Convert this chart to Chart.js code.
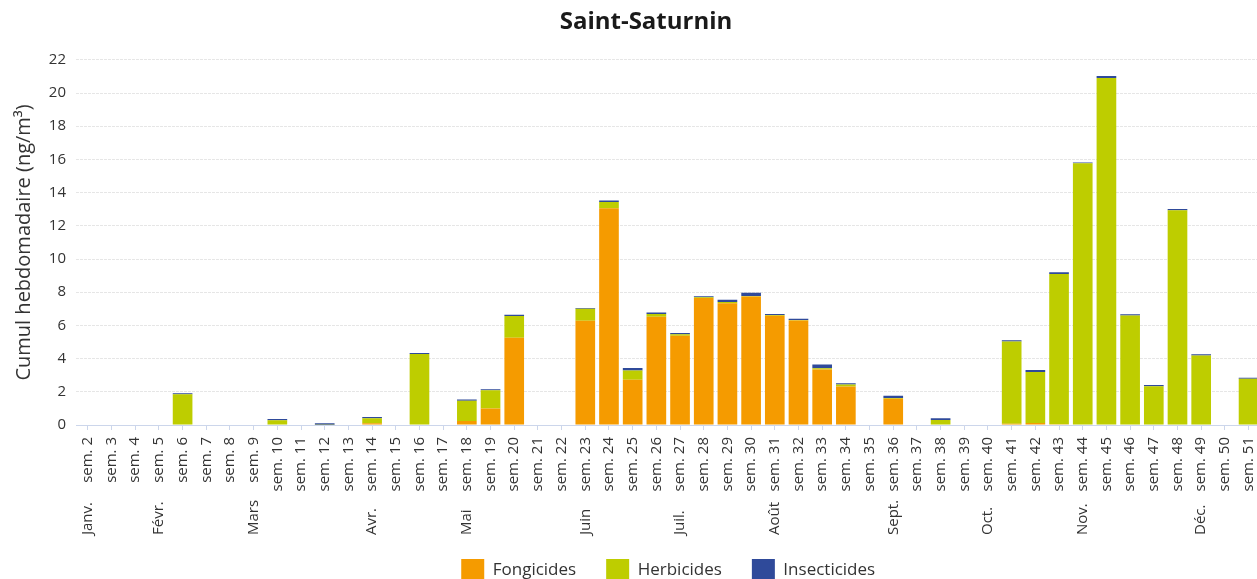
<!DOCTYPE html>
<html>
<head>
<meta charset="utf-8">
<script src="https://cdn.jsdelivr.net/npm/chart.js@4/dist/chart.umd.min.js"></script>
<style>
  html, body { margin: 0; padding: 0; overflow: hidden; background: #fff; }
</style>
</head>
<body>
<canvas id="myChart" width="1292" height="592"></canvas>
<script>
var weeks = ["sem. 2", "sem. 3", "sem. 4", "sem. 5", "sem. 6", "sem. 7", "sem. 8", "sem. 9", "sem. 10", "sem. 11",
    "sem. 12", "sem. 13", "sem. 14", "sem. 15", "sem. 16", "sem. 17", "sem. 18", "sem. 19", "sem. 20", "sem. 21",
    "sem. 22", "sem. 23", "sem. 24", "sem. 25", "sem. 26", "sem. 27", "sem. 28", "sem. 29", "sem. 30", "sem. 31",
    "sem. 32", "sem. 33", "sem. 34", "sem. 35", "sem. 36", "sem. 37", "sem. 38", "sem. 39", "sem. 40", "sem. 41",
    "sem. 42", "sem. 43", "sem. 44", "sem. 45", "sem. 46", "sem. 47", "sem. 48", "sem. 49", "sem. 50", "sem. 51"];

// month names and the week under which each one is written
var monthNames = ["Janv.", "Févr.", "Mars", "Avr.", "Mai", "Juin", "Juil.", "Août", "Sept.", "Oct.", "Nov.", "Déc."];
var monthWeeks = ["sem. 2", "sem. 5", "sem. 9", "sem. 14", "sem. 18", "sem. 23", "sem. 27", "sem. 31", "sem. 36", "sem. 40", "sem. 44", "sem. 49"];

var fongicides = [0, 0, 0, 0, 0, 0, 0, 0, 0, 0,
    0, 0, 0.1, 0, 0, 0, 0.24, 1.0, 5.26, 0,
    0, 6.28, 13.06, 2.72, 6.52, 5.38, 7.65, 7.33, 7.74, 6.58,
    6.3, 3.34, 2.32, 0, 1.58, 0, 0, 0, 0, 0.08,
    0.12, 0.05, 0, 0, 0, 0, 0, 0, 0, 0];
var herbicides = [0, 0, 0, 0, 1.85, 0, 0, 0, 0.29, 0,
    0.02, 0, 0.3, 0, 4.27, 0, 1.22, 1.09, 1.3, 0,
    0, 0.72, 0.37, 0.56, 0.17, 0.08, 0.05, 0.08, 0.03, 0.05,
    0.02, 0.08, 0.12, 0, 0.04, 0, 0.3, 0, 0, 4.95,
    3.07, 9.05, 15.77, 20.9, 6.6, 2.33, 12.93, 4.18, 0, 2.78];
var insecticides = [0, 0, 0, 0, 0.06, 0, 0, 0, 0.07, 0,
    0.08, 0, 0.08, 0, 0.06, 0, 0.08, 0.06, 0.08, 0,
    0, 0.05, 0.1, 0.16, 0.08, 0.08, 0.05, 0.14, 0.2, 0.06,
    0.08, 0.22, 0.07, 0, 0.14, 0, 0.1, 0, 0, 0.08,
    0.12, 0.1, 0.05, 0.12, 0.07, 0.08, 0.08, 0.08, 0, 0.07];

var yTicks = [0, 2, 4, 6, 8, 10, 12, 14, 16, 18, 20, 22];

Chart.defaults.font.family = '"Open Sans", sans-serif';
Chart.defaults.color = "#333333";

// writes the month names under the week labels
var monthLabels = {
    id: "monthLabels",
    afterDraw: function (chart) {
        var xs = chart.scales.x;
        var c = chart.ctx;
        c.save();
        c.font = '15px "Open Sans", sans-serif';
        c.fillStyle = "#333333";
        c.textAlign = "left";
        c.textBaseline = "middle";
        for (var i = 0; i < monthNames.length; i++) {
            var px = xs.getPixelForValue(weeks.indexOf(monthWeeks[i]));
            c.save();
            c.translate(px, xs.bottom + 6);
            c.rotate(-Math.PI / 2);
            c.fillText(monthNames[i], 0, 0);
            c.restore();
        }
        c.restore();
    }
};

var data = {
    labels: weeks,
    datasets: [
        {
            label: "Fongicides",
            data: fongicides,
            backgroundColor: "#F59B00",
            borderWidth: 0,
            barPercentage: 0.83,
            categoryPercentage: 1.0,
        },
        {
            label: "Herbicides",
            data: herbicides,
            backgroundColor: "#BECD00",
            borderWidth: 0,
            barPercentage: 0.83,
            categoryPercentage: 1.0,
        },
        {
            label: "Insecticides",
            data: insecticides,
            backgroundColor: "#2F4A9A",
            borderWidth: 0,
            barPercentage: 0.83,
            categoryPercentage: 1.0,
        },
    ],
};

var options = {
    responsive: false,
    animation: false,
    layout: { padding: 0 },
    plugins: {
        title: {
            display: true,
            text: "Saint-Saturnin",
            color: "#1a1a1a",
            font: { size: 24, weight: "bold" },
            padding: { top: 7.6, bottom: 23.4 },
        },
        legend: {
            display: true,
            position: "bottom",
            fullSize: false,
            labels: {
                boxWidth: 23,
                boxHeight: 23,
                padding: 30,
                font: { size: 17 },
                color: "#333333",
            },
        },
        tooltip: { enabled: false },
    },
    scales: {
        x: {
            stacked: true,
            grid: {
                display: true,
                drawOnChartArea: false,
                drawTicks: true,
                tickLength: 5,
                offset: false,
                color: "#ccd6eb",
            },
            border: { display: true, color: "#ccd6eb" },
            ticks: {
                autoSkip: false,
                minRotation: 90,
                maxRotation: 90,
                padding: 7,
                font: { size: 15 },
                color: "#333333",
            },
            afterFit: function (s) { s.height = 104; },
        },
        y: {
            stacked: true,
            min: 0,
            max: 22,
            afterBuildTicks: function (s) {
                s.ticks = yTicks.map(function (v) { return { value: v }; });
            },
            grid: { color: "#e6e6e6", drawTicks: false },
            border: { display: false, dash: [3, 1] },
            ticks: { padding: 10, font: { size: 15 }, color: "#333333" },
            title: {
                display: true,
                text: "Cumul hebdomadaire (ng/m³)",
                font: { size: 20 },
                color: "#333333",
                padding: { top: 12, bottom: 12 },
            },
            afterFit: function (s) { s.width = 76; },
        },
        yPad: {
            position: "right",
            type: "linear",
            display: true,
            grid: { display: false },
            ticks: { display: false },
            border: { display: false },
            afterFit: function (s) { s.width = 31.6; },
        },
    },
};

var myChart = new Chart(document.getElementById("myChart").getContext("2d"), {
    type: "bar",
    data: data,
    options: options,
    plugins: [monthLabels],
});
</script>
</body>
</html>
